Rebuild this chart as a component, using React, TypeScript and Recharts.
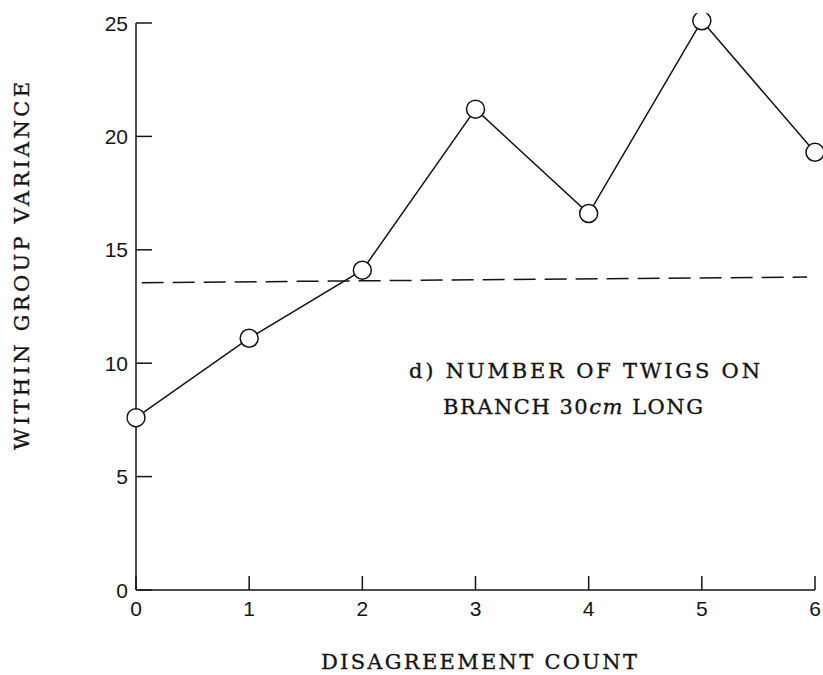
import { LineChart, Line, XAxis, YAxis, ReferenceLine, Customized } from "recharts";

const counts = [0, 1, 2, 3, 4, 5, 6];
const variances = [7.6, 11.1, 14.1, 21.2, 16.6, 25.1, 19.3];
const yTicks = [0, 5, 10, 15, 20, 25];
const dashedLine = [
  { x: 0.05, y: 13.55 },
  { x: 5.93, y: 13.8 },
];

const data = counts.map((c, i) => ({ count: c, variance: variances[i] }));

const ink = "#141414";
const serif = "'DejaVu Serif', 'Liberation Serif', serif";
const sans = "'Liberation Sans', Arial, sans-serif";

const YTick = (props: any) => {
  const { x, y, payload } = props;
  const axisX = x + 8;
  return (
    <g>
      <line x1={axisX} x2={axisX + 16} y1={y} y2={y} stroke={ink} strokeWidth={1.5} />
      <text x={x} y={y + 7.5} textAnchor="end" fontFamily={sans} fontSize={21} fill={ink}>
        {payload.value}
      </text>
    </g>
  );
};

const XTick = (props: any) => {
  const { x, y, payload } = props;
  return (
    <g>
      <line x1={x} x2={x} y1={y - 14} y2={y} stroke={ink} strokeWidth={1.5} />
      <text x={x} y={y + 26} textAnchor="middle" fontFamily={sans} fontSize={21} fill={ink}>
        {payload.value}
      </text>
    </g>
  );
};

const Texts = () => (
  <g fill={ink} stroke={ink} strokeWidth={0.35} fontFamily={serif} fontSize={21}>
    <text
      transform="translate(29,266) rotate(-90)"
      textAnchor="middle"
      textLength={368}
      lengthAdjust="spacing"
    >
      WITHIN GROUP VARIANCE
    </text>
    <text x={321} y={669} textLength={316} lengthAdjust="spacing">
      DISAGREEMENT COUNT
    </text>
    <text x={409} y={378} textLength={351} lengthAdjust="spacing">
      d) NUMBER OF TWIGS ON
    </text>
    <text x={443} y={414} textLength={260} lengthAdjust="spacing">
      BRANCH 30<tspan fontStyle="italic">cm</tspan> LONG
    </text>
  </g>
);

export default function App() {
  return (
    <div style={{ position: "absolute", left: 0, top: 0, background: "#fff" }}>
      <LineChart
        width={823}
        height={675}
        data={data}
        margin={{ top: 23, right: 8, bottom: 55, left: 0 }}
      >
        <XAxis
          dataKey="count"
          type="number"
          domain={[0, 6]}
          ticks={counts}
          height={30}
          tickSize={0}
          tickMargin={0}
          tick={XTick}
          stroke={ink}
          strokeWidth={1.5}
        />
        <YAxis
          type="number"
          domain={[0, 25]}
          ticks={yTicks}
          allowDataOverflow
          width={136}
          tickSize={0}
          tickMargin={8}
          tick={YTick}
          stroke={ink}
          strokeWidth={1.5}
        />
        <ReferenceLine
          segment={dashedLine}
          stroke={ink}
          strokeWidth={1.5}
          strokeDasharray="22 9"
          ifOverflow="visible"
        />
        <Line
          dataKey="variance"
          stroke={ink}
          strokeWidth={1.5}
          dot={{ r: 9, fill: "#fff", stroke: ink, strokeWidth: 1.5, clipDot: false }}
          isAnimationActive={false}
        />
        <Customized component={Texts} />
      </LineChart>
    </div>
  );
}
